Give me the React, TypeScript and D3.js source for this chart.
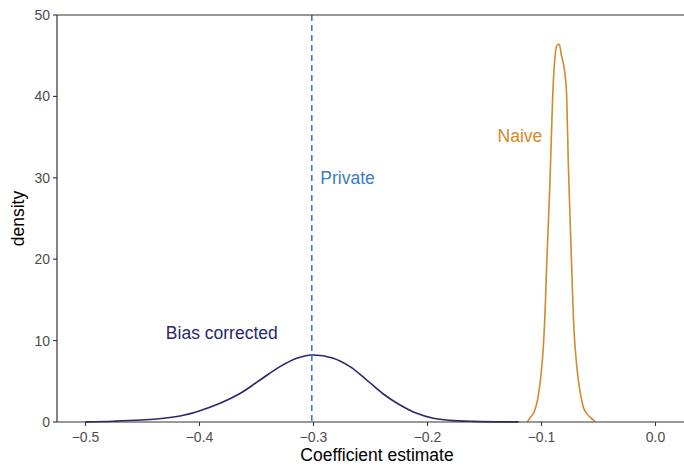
import React from "react";
import * as d3 from "d3";

const xTicks = [-0.5, -0.4, -0.3, -0.2, -0.1, 0.0];
const yTicks = [0, 10, 20, 30, 40, 50];

const naiveX = [-0.1125, -0.1101, -0.1057, -0.1025, -0.1003, -0.0984, -0.0966, -0.0954, -0.0925, -0.0902, -0.0882, -0.0862, -0.0844, -0.0825, -0.0809, -0.0792, -0.0779, -0.0765, -0.0741, -0.0715, -0.0695, -0.0677, -0.0655, -0.0633, -0.0600, -0.0575, -0.0531];
const naiveY = [0.0, 0.5, 1.5, 3.5, 6.0, 9.2, 14.5, 19.5, 29.7, 40.0, 44.8, 46.3, 46.4, 45.0, 44.1, 42.5, 40.0, 31.8, 21.5, 11.3, 7.5, 5.2, 3.2, 1.8, 1.0, 0.6, 0.1];

const biasX = [-0.5, -0.4756, -0.4375, -0.4171, -0.3996, -0.382, -0.3645, -0.3469, -0.3294, -0.3147, -0.3016, -0.2826, -0.268, -0.2533, -0.2388, -0.2241, -0.2095, -0.1949, -0.1803, -0.1598, -0.12];
const biasY = [0.02, 0.1, 0.37, 0.74, 1.39, 2.3, 3.5, 5.16, 6.8, 7.83, 8.23, 7.83, 6.8, 5.16, 3.44, 2.09, 1.07, 0.45, 0.2, 0.08, 0.01];

const privateX = -0.3015;

const labels = [
  { text: "Naive", x: -0.1385, y: 34.4, color: "#d18b2c" },
  { text: "Private", x: -0.294, y: 29.2, color: "#3a7cc6" },
  { text: "Bias corrected", x: -0.4295, y: 10.2, color: "#27286f" },
];

export default function App() {
  const W = 684, H = 466;
  const left = 57, right = 684, top = 15, bottom = 422;
  const x = d3.scaleLinear().domain([-0.525, 0.025]).range([left, right]);
  const y = d3.scaleLinear().domain([0, 50]).range([bottom, top]);
  const lineNaive = d3.line<[number, number]>().x(d => x(d[0])).y(d => y(d[1])).curve(d3.curveMonotoneX);
  const lineBias = d3.line<[number, number]>().x(d => x(d[0])).y(d => y(d[1])).curve(d3.curveCatmullRom.alpha(0.5));
  const naive = naiveX.map((v, i) => [v, naiveY[i]] as [number, number]);
  const bias = biasX.map((v, i) => [v, biasY[i]] as [number, number]);
  const font = "'Liberation Sans', Arial, Helvetica, sans-serif";
  return (
    <svg width={W} height={H} style={{ position: "absolute", left: 0, top: 0 }} fontFamily={font}>
      <rect width={W} height={H} fill="#fff" />
      <path d={lineBias(bias) || ""} fill="none" stroke="#27286f" strokeWidth={1.6} />
      <path d={lineNaive(naive) || ""} fill="none" stroke="#d18b2c" strokeWidth={1.6} />
      <line x1={x(privateX)} x2={x(privateX)} y1={top} y2={bottom} stroke="#3a7cc6" strokeWidth={1.6} strokeDasharray="6,4" />
      <line x1={left} x2={right} y1={bottom} y2={bottom} stroke="#333" strokeWidth={1.2} />
      <line x1={left} x2={right} y1={top} y2={top} stroke="#333" strokeWidth={1.2} />
      <line x1={left} x2={left} y1={top} y2={bottom} stroke="#333" strokeWidth={1.2} />
      {xTicks.map(t => (
        <g key={"x" + t}>
          <line x1={x(t)} x2={x(t)} y1={bottom} y2={bottom + 4} stroke="#333" strokeWidth={1.1} />
          <text x={x(t)} y={bottom + 20} textAnchor="middle" fontSize={14} fill="#4d4d4d">{d3.format(".1f")(t).replace("-", "\u2212")}</text>
        </g>
      ))}
      {yTicks.map(t => (
        <g key={"y" + t}>
          <line x1={left - 4} x2={left} y1={y(t)} y2={y(t)} stroke="#333" strokeWidth={1.1} />
          <text x={left - 7} y={y(t) + 5} textAnchor="end" fontSize={14} fill="#4d4d4d">{t}</text>
        </g>
      ))}
      <text x={377} y={461} textAnchor="middle" fontSize={17.5} fill="#000">Coefficient estimate</text>
      <text transform={`translate(24,${(top + bottom) / 2}) rotate(-90)`} textAnchor="middle" fontSize={17.5} fill="#000">density</text>
      {labels.map(l => (
        <text key={l.text} x={x(l.x)} y={y(l.y)} fontSize={17.5} fill={l.color}>{l.text}</text>
      ))}
    </svg>
  );
}
